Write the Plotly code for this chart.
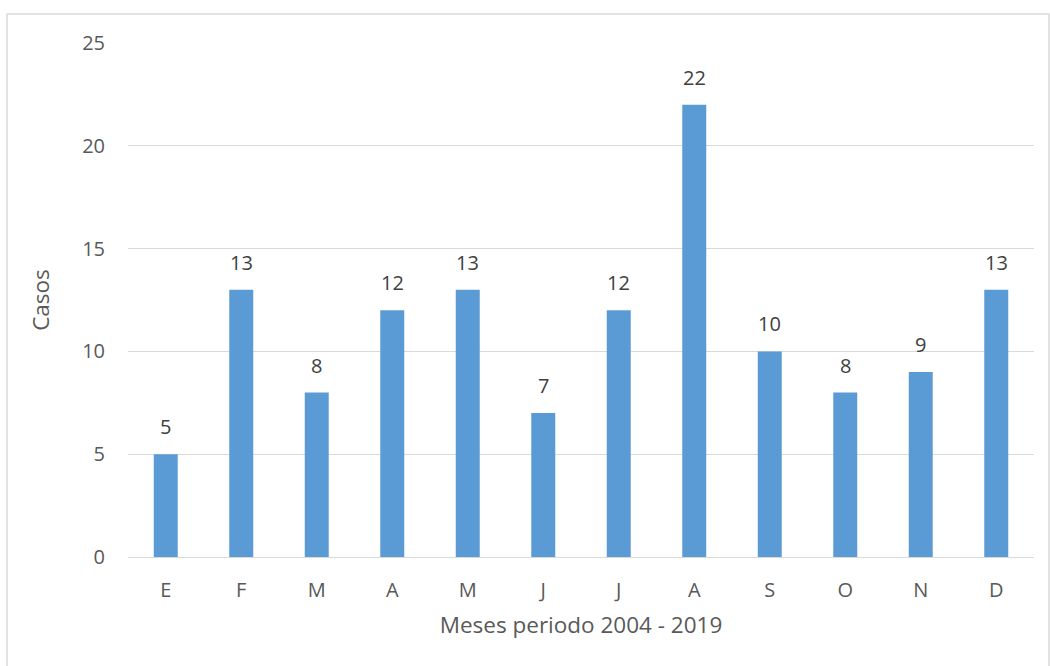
import plotly.graph_objects as go

months = ["E", "F", "M", "A", "M", "J", "J", "A", "S", "O", "N", "D"]
casos = [5, 13, 8, 12, 13, 7, 12, 22, 10, 8, 9, 13]
y_ticks = [0, 5, 10, 15, 20, 25]

x_pos = list(range(len(months)))

fig = go.Figure(go.Bar(
    x=x_pos, y=casos, width=0.318,
    marker=dict(color="#5B9BD5", line=dict(width=0)),
))

for xv, yv in zip(x_pos, casos):
    fig.add_annotation(x=xv, y=yv, text=str(yv), showarrow=False,
                       yanchor="bottom", yshift=12,
                       font=dict(color="#404040", size=20, family="Open Sans"))

L, R, T, B = 128, 16, 43, 109
W, H = 1050 - L - R, 666 - T - B

fig.update_layout(
    width=1050, height=666,
    margin=dict(l=L, r=R, t=T, b=B),
    plot_bgcolor="white", paper_bgcolor="white",
    font=dict(family="Open Sans", color="#595959", size=20),
    showlegend=False,
    xaxis=dict(
        tickmode="array", tickvals=x_pos, ticktext=months,
        range=[-0.5, len(months) - 0.5], showgrid=False, zeroline=False,
        ticks="", ticklabelstandoff=19, tickfont=dict(size=20),
        title=dict(text="Meses periodo 2004 - 2019", font=dict(size=22.5), standoff=15),
    ),
    yaxis=dict(
        tickmode="array", tickvals=y_ticks, range=[0, 25],
        showgrid=True, gridcolor="#D9D9D9", gridwidth=1,
        zeroline=True, zerolinecolor="#D9D9D9", zerolinewidth=1,
        ticks="", ticklabelstandoff=22, tickfont=dict(size=20),
        title=dict(text="Casos", font=dict(size=22.5), standoff=26),
    ),
    shapes=[dict(
        type="rect", xref="paper", yref="paper",
        x0=(7 - L) / W, x1=(1049 - L) / W,
        y0=-0.4, y1=(666 - B - 14) / H,
        line=dict(color="#D9D9D9", width=1.5), fillcolor="rgba(0,0,0,0)",
        layer="below",
    )],
)

fig.write_html("out.html")
